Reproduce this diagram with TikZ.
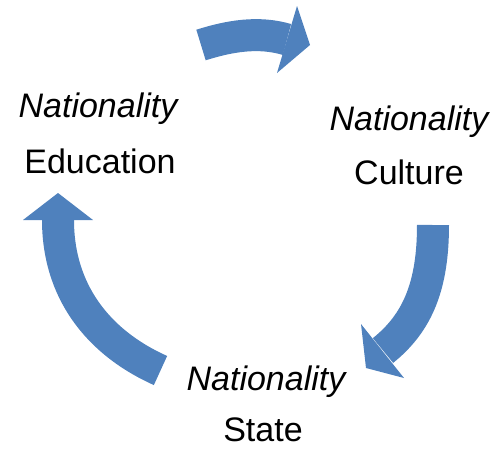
\documentclass[tikz,border=0pt]{standalone}
\usepackage{fontspec}
\setmainfont{Liberation Sans}
\definecolor{cycblue}{RGB}{79,129,189}
\tikzset{
  band/.style={draw=cycblue, line width=32pt, line cap=butt},
  head/.style={fill=cycblue},
  nat/.style={anchor=base, font=\fontsize{34}{40}\selectfont\itshape},
  word/.style={anchor=base, font=\fontsize{34}{40}\selectfont},
}
\begin{document}
\begin{tikzpicture}
        [x=1pt,y=-1pt]
        \useasboundingbox (0,0) rectangle (501,453);

        \node[nat] (natE) at (98,117) {Nationality};
        \node[word] (edu) at (100,173) {Education};
        \node[nat] (natC) at (409,130) {Nationality};
        \node[word] (cult) at (409,184) {Culture};
        \node[nat] (natS) at (266,390) {Nationality};
        \node[word] (state) at (263,441) {State};

        % education -> culture
        \coordinate (topT) at (201,45);
        \coordinate (topB) at (287,39.5);
        \draw[band] (topT) .. controls +(28.6,-9) and +(-28.7,-8.5) .. (topB);
        \fill[head] (297,6) -- (310,45) -- (277,73) -- cycle;

        % culture -> state
        \coordinate (rgtT) at (433,225);
        \coordinate (rgtB) at (383,350.5);
        \draw[band] (rgtT) .. controls +(0,60) and +(35,-28) .. (rgtB);
        \fill[head] (361,324) -- (366,368) -- (404,378) -- cycle;

        % state -> education
        \coordinate (lftT) at (160.5,370.5);
        \coordinate (lftB) at (58,220);
        \draw[band] (lftT) .. controls +(-63.8,-28.6) and +(0,70) .. (lftB);
        \fill[head] (23,220) -- (58,193) -- (93,220) -- cycle;
      \end{tikzpicture}
\end{document}
